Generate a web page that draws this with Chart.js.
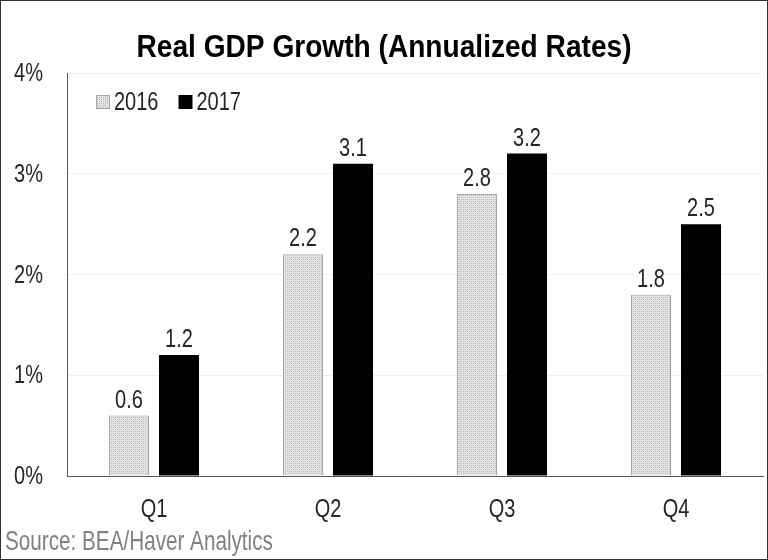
<!DOCTYPE html>
<html>
<head>
<meta charset="utf-8">
<script src="https://cdn.jsdelivr.net/npm/chart.js@4/dist/chart.umd.min.js"></script>
<style>
  html, body { margin: 0; padding: 0; background: #fff; }
  #wrap { width: 766px; height: 558px; border: 1px solid #333; position: relative; }
  canvas { display: block; }
</style>
</head>
<body>
<div id="wrap"><canvas id="chart" width="766" height="558"></canvas></div>
<script>
const quarters = ['Q1', 'Q2', 'Q3', 'Q4'];
const growth2016 = [0.6, 2.2, 2.8, 1.8];
const growth2017 = [1.2, 3.1, 3.2, 2.5];
const yTicks = [0, 1, 2, 3, 4];

const FONT = '"Liberation Sans", Arial, sans-serif';
const VS = 1.3; // original text looks stretched vertically

// dotted gray fill like the original hatch
const makeHatch = () => {
    const c = document.createElement('canvas');
    c.width = 4; c.height = 4;
    const g = c.getContext('2d');
    g.fillStyle = '#e3e3e3';
    g.fillRect(0, 0, 4, 4);
    g.fillStyle = '#b0b0b0';
    g.fillRect(0, 0, 1, 1);
    g.fillRect(2, 2, 1, 1);
    g.fillStyle = '#cacaca';
    g.fillRect(2, 0, 1, 1);
    g.fillRect(0, 2, 1, 1);
    return g.createPattern(c, 'repeat');
};
const hatch = makeHatch();

const tallText = (ctx, text, x, y, font, color, align, baseline, sx) => {
    ctx.save();
    ctx.font = font;
    ctx.fillStyle = color;
    ctx.textAlign = align;
    ctx.textBaseline = baseline;
    ctx.translate(x, y);
    ctx.scale(sx || 1, VS);
    ctx.fillText(text, 0, 0);
    ctx.restore();
};

// tick labels drawn from the scales so they can be stretched like the original
const axisLabels = {
    id: 'axisLabels',
    afterDraw(chart) {
        const ctx = chart.ctx;
        const xs = chart.scales.x, ys = chart.scales.y;
        xs.ticks.forEach((t, i) => {
            tallText(ctx, quarters[i], xs.getPixelForTick(i), chart.chartArea.bottom + 34,
                '20px ' + FONT, '#262626', 'center', 'middle');
        });
        ys.ticks.forEach((t, i) => {
            tallText(ctx, t.value + '%', 42, ys.getPixelForValue(t.value) + 1,
                '20px ' + FONT, '#262626', 'right', 'middle');
        });
    }
};

// title in a condensed look (no narrow font installed)
const narrowTitle = {
    id: 'narrowTitle',
    afterDraw(chart) {
        const ctx = chart.ctx;
        const text = 'Real GDP Growth (Annualized Rates)';
        ctx.save();
        ctx.font = 'bold 32px ' + FONT;
        const w = ctx.measureText(text).width;
        const sx = 495 / w;
        ctx.translate(chart.width / 2, 56);
        ctx.scale(sx, 1);
        ctx.fillStyle = '#000';
        ctx.textAlign = 'center';
        ctx.textBaseline = 'alphabetic';
        ctx.fillText(text, 0, 0);
        ctx.restore();
    }
};

// legend inside plot, top-left
const innerLegend = {
    id: 'innerLegend',
    afterDraw(chart) {
        const ctx = chart.ctx;
        const area = chart.chartArea;
        let x = area.left + 29;
        const y = area.top + 29;
        ctx.save();
        ctx.font = '20px ' + FONT;
        chart.data.datasets.forEach((ds) => {
            ctx.fillStyle = ds.backgroundColor;
            ctx.fillRect(x, y - 7, 14, 14);
            if (ds.borderWidth) {
                ctx.strokeStyle = ds.borderColor;
                ctx.lineWidth = 1;
                ctx.strokeRect(x + 0.5, y - 6.5, 13, 13);
            }
            tallText(ctx, ds.label, x + 18, y + 1, '20px ' + FONT, '#262626', 'left', 'middle');
            x += 18 + ctx.measureText(ds.label).width + 20;
        });
        ctx.restore();
    }
};

const valueLabels = {
    id: 'valueLabels',
    afterDatasetsDraw(chart) {
        const ctx = chart.ctx;
        chart.data.datasets.forEach((ds, i) => {
            chart.getDatasetMeta(i).data.forEach((bar, j) => {
                tallText(ctx, ds.data[j].toFixed(1), bar.x, bar.y - 8,
                    '20px ' + FONT, '#262626', 'center', 'alphabetic');
            });
        });
    }
};

const sourceNote = {
    id: 'sourceNote',
    afterDraw(chart) {
        tallText(chart.ctx, 'Source: BEA/Haver Analytics', 4, 549,
            '20.7px ' + FONT, '#808080', 'left', 'alphabetic');
    }
};

new Chart(document.getElementById('chart'), {
    type: 'bar',
    data: {
        labels: quarters,
        datasets: [
            {
                label: '2016',
                data: growth2016,
                backgroundColor: hatch,
                borderColor: '#a6a6a6',
                borderWidth: 1,
                categoryPercentage: 0.575,
                barPercentage: 0.8
            },
            {
                label: '2017',
                data: growth2017,
                backgroundColor: '#000000',
                borderColor: '#000000',
                borderWidth: 0,
                categoryPercentage: 0.575,
                barPercentage: 0.8
            }
        ]
    },
    options: {
        responsive: false,
        animation: false,
        layout: { padding: { left: 0, right: 4, top: 72, bottom: 33 } },
        plugins: {
            title: { display: false },
            legend: { display: false },
            tooltip: { enabled: false }
        },
        scales: {
            x: {
                grid: { display: false, drawTicks: false },
                border: { color: '#595959', width: 1 },
                afterFit: (s) => { s.height = 50; },
                ticks: { display: false }
            },
            y: {
                min: 0,
                max: 4,
                afterBuildTicks: (s) => { s.ticks = yTicks.map(v => ({ value: v })); },
                afterFit: (s) => { s.width = 66; },
                grid: { color: '#f0f0f0', drawTicks: false },
                border: { color: '#595959', width: 1 },
                ticks: { display: false }
            }
        }
    },
    plugins: [valueLabels, innerLegend, narrowTitle, axisLabels, sourceNote]
});
</script>
</body>
</html>
